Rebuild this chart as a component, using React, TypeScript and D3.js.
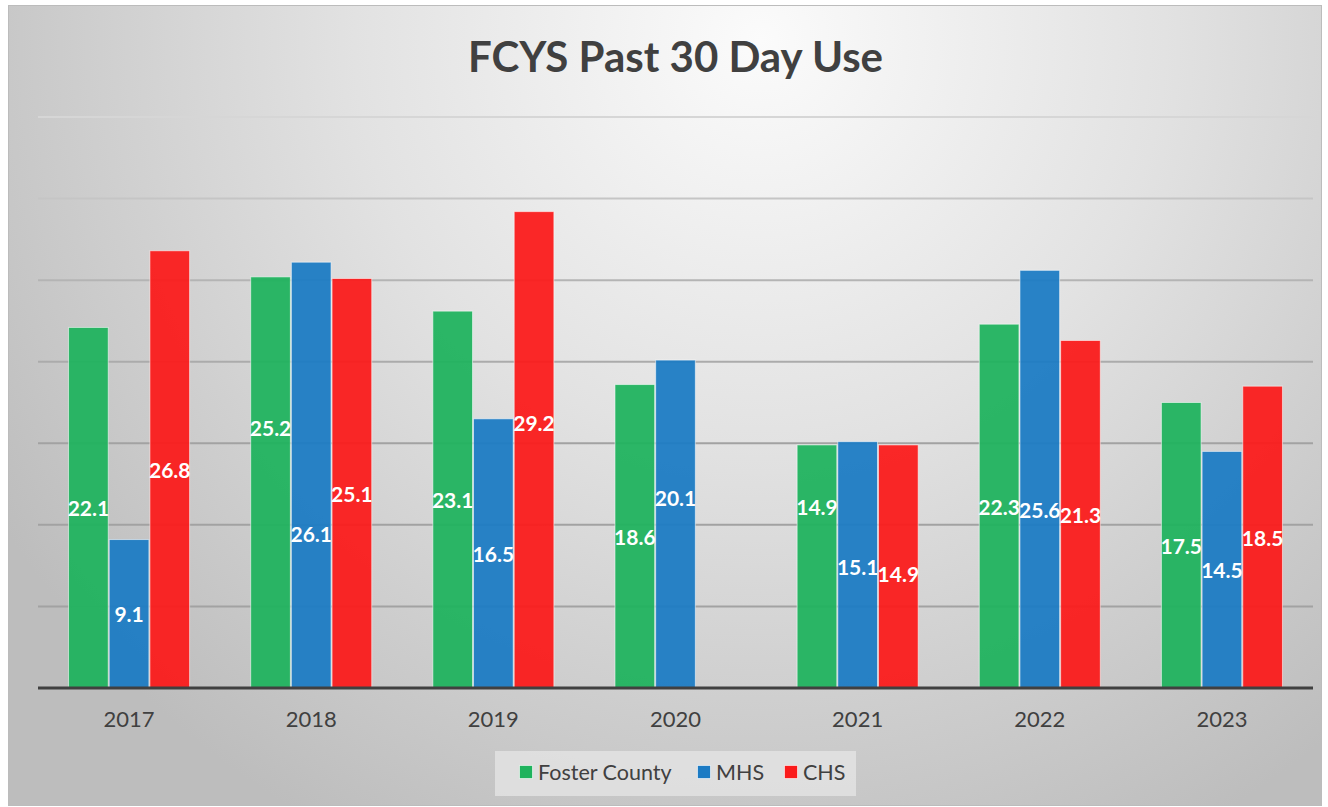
import React, { useRef, useEffect } from 'react';
import * as d3 from 'd3';

const years = ['2017', '2018', '2019', '2020', '2021', '2022', '2023'];
const seriesNames = ['Foster County', 'MHS', 'CHS'];
const fosterCounty = [22.1, 25.2, 23.1, 18.6, 14.9, 22.3, 17.5];
const mhs = [9.1, 26.1, 16.5, 20.1, 15.1, 25.6, 14.5];
const chs: (number | null)[] = [26.8, 25.1, 29.2, null, 14.9, 21.3, 18.5];
const yTicks = [0, 5, 10, 15, 20, 25, 30, 35];

// label nudges (px) as the labels were dragged around in the original chart
const labelNudge = [
  [0, 0, 0],
  [-55, 58, 10],
  [0, 0, -27],
  [0, -27, 0],
  [-60, 2, 7],
  [0, 30, 0],
  [0, 0, 0],
];

const colors = ['#1fb35d', '#1c7bc4', '#fb1b1b'];
const FONT = 'Lato, "Open Sans", sans-serif';

const App: React.FC = () => {
  const svgRef = useRef<SVGSVGElement>(null);
  const width = 1328;
  const height = 807;

  useEffect(() => {
    if (!svgRef.current) return;
    const svg = d3.select(svgRef.current);
    svg.selectAll('*').remove();

    const plot = { left: 38, right: 1313, top: 117, bottom: 688 };

    // background gradient
    const defs = svg.append('defs');
    const bg = defs.append('radialGradient')
      .attr('id', 'bgGrad')
      .attr('gradientUnits', 'userSpaceOnUse')
      .attr('cx', 760).attr('cy', 40).attr('r', 900)
      .attr('fx', 760).attr('fy', 40);
    bg.append('stop').attr('offset', '0%').attr('stop-color', '#fbfbfb');
    bg.append('stop').attr('offset', '45%').attr('stop-color', '#e2e2e2');
    bg.append('stop').attr('offset', '100%').attr('stop-color', '#bdbdbd');

    svg.append('rect')
      .attr('x', 8.5).attr('y', 5.5)
      .attr('width', 1313).attr('height', 800)
      .attr('fill', 'url(#bgGrad)')
      .attr('stroke', '#bcbcbc')
      .attr('stroke-width', 1);

    const x0 = d3.scaleBand<string>()
      .domain(years)
      .range([plot.left, plot.right])
      .paddingInner(0.33)
      .paddingOuter(0.165);
    const x1 = d3.scaleBand<number>()
      .domain([0, 1, 2])
      .range([0, x0.bandwidth()]);
    const y = d3.scaleLinear().domain([0, 35]).range([plot.bottom, plot.top]);

    const gridColor = d3.scaleLinear<string>()
      .domain([35, 25, 15])
      .range(['#d6d6d6', '#b4b4b4', '#a2a2a2'])
      .clamp(true);

    // gridlines
    svg.append('g')
      .selectAll('line')
      .data(yTicks.filter(t => t > 0))
      .enter()
      .append('line')
      .attr('x1', plot.left)
      .attr('x2', plot.right)
      .attr('y1', d => y(d))
      .attr('y2', d => y(d))
      .attr('stroke', d => gridColor(d))
      .attr('stroke-width', 2);

    const series = [fosterCounty, mhs, chs];

    // bars
    const groups = svg.append('g')
      .selectAll('g')
      .data(years)
      .enter()
      .append('g')
      .attr('transform', d => `translate(${x0(d)},0)`);

    groups.each(function (year, i) {
      const g = d3.select(this);
      series.forEach((s, si) => {
        const v = s[i];
        if (v == null) return;
        g.append('rect')
          .attr('x', (x1(si) as number) + 0.5)
          .attr('y', y(v))
          .attr('width', x1.bandwidth() - 1)
          .attr('height', plot.bottom - y(v))
          .attr('fill', colors[si])
          .attr('fill-opacity', 0.94)
          .attr('stroke', 'rgba(255,255,255,0.55)')
          .attr('stroke-width', 1);
      });
    });

    // data labels
    groups.each(function (year, i) {
      const g = d3.select(this);
      series.forEach((s, si) => {
        const v = s[i];
        if (v == null) return;
        g.append('text')
          .attr('x', (x1(si) as number) + x1.bandwidth() / 2)
          .attr('y', (y(v) + plot.bottom) / 2 + labelNudge[i][si])
          .attr('text-anchor', 'middle')
          .attr('dominant-baseline', 'central')
          .attr('font-family', FONT)
          .attr('font-size', '21px')
          .attr('font-weight', 'bold')
          .attr('fill', '#ffffff')
          .text(v.toFixed(1));
      });
    });

    // axis line
    svg.append('line')
      .attr('x1', plot.left)
      .attr('x2', plot.right)
      .attr('y1', plot.bottom)
      .attr('y2', plot.bottom)
      .attr('stroke', '#404040')
      .attr('stroke-width', 3);

    // category labels
    svg.append('g')
      .selectAll('text')
      .data(years)
      .enter()
      .append('text')
      .attr('x', d => (x0(d) as number) + x0.bandwidth() / 2)
      .attr('y', 727)
      .attr('text-anchor', 'middle')
      .attr('font-family', FONT)
      .attr('font-size', '22px')
      .attr('fill', '#404040')
      .text(d => d);

    // title
    svg.append('text')
      .attr('x', (plot.left + plot.right) / 2)
      .attr('y', 72)
      .attr('text-anchor', 'middle')
      .attr('font-family', FONT)
      .attr('font-size', '42px')
      .attr('font-weight', 'bold')
      .attr('fill', '#404040')
      .text('FCYS Past 30 Day Use');

    // legend
    const legend = svg.append('g');
    legend.append('rect')
      .attr('x', 495).attr('y', 751)
      .attr('width', 361).attr('height', 45)
      .attr('fill', '#e6e6e6')
      .attr('fill-opacity', 0.75);
    const itemX = [519, 697, 784];
    seriesNames.forEach((name, i) => {
      legend.append('rect')
        .attr('x', itemX[i] + 0.5).attr('y', 765.5)
        .attr('width', 13).attr('height', 13)
        .attr('fill', colors[i])
        .attr('stroke', 'rgba(255,255,255,0.6)')
        .attr('stroke-width', 1);
      legend.append('text')
        .attr('x', itemX[i] + 19)
        .attr('y', 780)
        .attr('font-family', FONT)
        .attr('font-size', '21.5px')
        .attr('fill', '#404040')
        .text(name);
    });
  }, []);

  return (
    <div style={{ position: 'absolute', left: 0, top: 0 }}>
      <svg ref={svgRef} width={width} height={height} style={{ display: 'block' }} />
    </div>
  );
};

export default App;
